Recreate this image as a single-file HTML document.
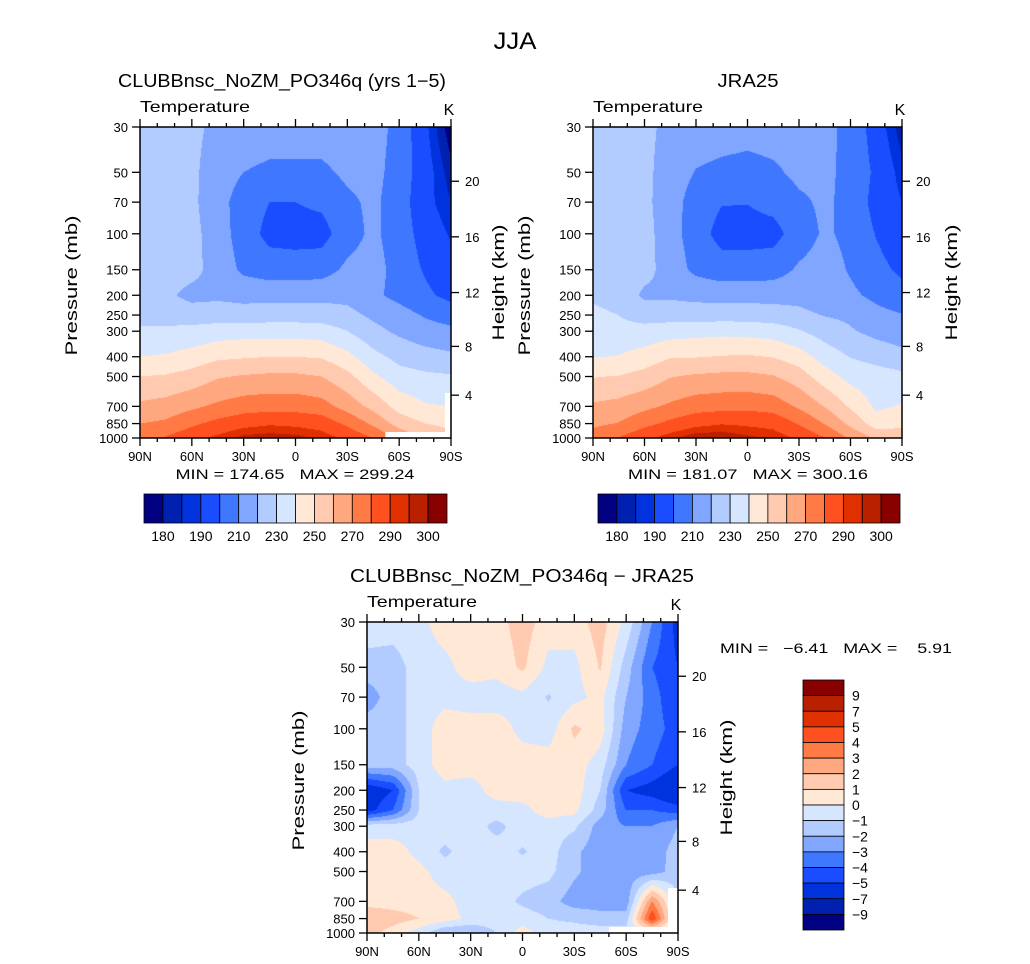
<!DOCTYPE html>
<html><head><meta charset="utf-8">
<style>
html,body{margin:0;padding:0;background:#fff;}
#wrap{position:relative;width:1030px;height:964px;overflow:hidden;font-family:"Liberation Sans",sans-serif;}
canvas{position:absolute;}
svg{position:absolute;left:0;top:0;}
text{white-space:pre;}
</style></head>
<body>
<div id="wrap">
<canvas id="c1"></canvas>
<canvas id="c2"></canvas>
<canvas id="c3"></canvas>
<svg id="svg" width="1030" height="964"></svg>
</div>
<script>
const lats=[90,75,60,45,30,15,0,-15,-30,-45,-60,-75,-90];
const plevs=[30,50,70,100,150,200,250,300,400,500,700,850,1000];
const tempModel=[
[224,224,222,218,216,215,215,215,215,214,207,192,176],
[225,224,222,215,210,208,208,208,212,213,206,194,182],
[226,225,222,214,205,200,200,202,208,212,205,193,185],
[226,225,223,215,205,197,196,196,206,212,205,196,189],
[226,225,223,216,208,205,205,206,212,214,206,199,193],
[223,222,217,218,217,217,217,217,217,212,207,202,197],
[226,226,225,225,224,225,225,225,223,218,214,209,206],
[232,232,233,235,236,236,236,235,230,223,218,214,212],
[240,241,244,248,249,250,250,249,243,233,227,224,222],
[250,251,254,259,261,262,262,260,253,242,234,232,231],
[262,264,268,272,275,276,276,274,266,257,246,241,240],
[270,272,278,283,287,289,288,286,278,268,256,250,248],
[276,281,287,292,297,298,297,294,288,280,268,258,252]];
const diffValues=[
[-0.3,-0.5,-0.3,0.5,0.5,0.6,1.5,0.5,0.5,1.5,-0.3,-3,-5.5],
[-1.5,-1.5,-0.5,-0.3,0.5,0.3,1.2,-0.3,-0.3,1.1,-1.5,-4,-5],
[-2.5,-1.5,-0.5,-0.3,-0.5,-0.5,-0.3,-1.1,-0.3,0.3,-2,-3.5,-5],
[-1.5,-1.5,-0.5,0.5,0.5,0.5,-0.3,-0.5,1.2,0.5,-2.5,-3.5,-4.5],
[-1.5,-1.5,-0.5,0.5,0.5,0.5,0.5,0.5,0.5,-0.5,-3,-4,-5],
[-6,-5,-1,-0.3,-0.5,0.5,0.5,0.5,0.5,-1,-5,-5.5,-6.5],
[-5.5,-4,-1,-0.5,-0.5,-0.5,-0.3,0.5,0.3,-1.5,-4,-4,-4.5],
[-0.5,-0.5,-0.5,-0.5,-0.5,-1.3,-0.5,-0.5,-0.8,-2.5,-3,-3,-2],
[0.5,0.5,-0.3,-1.2,-0.5,-0.5,-1.1,-0.5,-1.8,-2.6,-2.6,-2.6,-1.5],
[0.5,0.5,0.3,-0.5,-0.5,-0.5,-0.5,-0.7,-1.8,-2.6,-2.6,-2.5,-1.5],
[0.5,0.5,0.5,0.3,-0.5,-0.5,-1.2,-1.6,-2.5,-2.6,-2.6,3,-1],
[2,1.5,1,0.5,-0.3,-0.5,-0.5,-1,-1.2,-1.5,-1.5,5,-1],
[1.5,0.5,-0.5,-2,-2,-1,0.5,-0.5,-0.5,-0.5,-0.5,-0.5,-0.5]];
const tempLevels=[180,185,190,200,210,220,230,240,250,260,270,280,290,295,300];
const tempLabels=["180","190","210","230","250","270","290","300"];
const diffLevels=[-9,-7,-5,-4,-3,-2,-1,0,1,2,3,4,5,7,9];
const diffLabels=["9","7","5","4","3","2","1","0","\u22121","\u22122","\u22123","\u22124","\u22125","\u22127","\u22129"];
const latTicks=[90,60,30,0,-30,-60,-90];
const latTickLabels=["90N","60N","30N","0","30S","60S","90S"];
const presTicks=[30,50,70,100,150,200,250,300,400,500,700,850,1000];
const heightKm=[20,16,12,8,4];
const heightPres=[55.3,103.5,194,356,617];
const palette=["#000080","#0020b0","#0033dd","#1a4dff","#4077ff","#80a6ff","#b3ccff","#d6e6ff","#ffe9d6","#ffcab0","#ffa880","#ff7a45","#ff5020","#e03000","#b82000","#880000"];
const jraValues=tempModel.map((r,i)=>r.map((v,j)=>v-diffValues[i][j]));

const LP0=Math.log(30),LP1=Math.log(1000);
function interp(g,lat,p){
  let fi=(90-lat)/15; let i=Math.min(11,Math.floor(fi)); let ti=fi-i;
  const lp=Math.log(p); let k=0;
  while(k<11 && lp>Math.log(plevs[k+1])) k++;
  const a=Math.log(plevs[k]),b=Math.log(plevs[k+1]); let tk=(lp-a)/(b-a);
  tk=Math.max(0,Math.min(1,tk));
  const v00=g[k][i],v01=g[k][i+1],v10=g[k+1][i],v11=g[k+1][i+1];
  return (v00*(1-ti)+v01*ti)*(1-tk)+(v10*(1-ti)+v11*ti)*tk;
}
function bin(v,levels){let n=0;while(n<levels.length&&v>=levels[n])n++;return n;}
function hex(h){return [parseInt(h.substr(1,2),16),parseInt(h.substr(3,2),16),parseInt(h.substr(5,2),16)];}
const palRGB=palette.map(hex);
function fill(id,box,grid,levels){
  const c=document.getElementById(id);c.width=box.w;c.height=box.h;
  c.style.left=box.x+'px';c.style.top=box.y+'px';
  const ctx=c.getContext('2d');const im=ctx.createImageData(box.w,box.h);
  for(let y=0;y<box.h;y++){const p=Math.exp(LP0+(y+0.5)/box.h*(LP1-LP0));
    for(let x=0;x<box.w;x++){const lat=90-(x+0.5)/box.w*180;
      const col=palRGB[bin(interp(grid,lat,p),levels)];const o=(y*box.w+x)*4;
      im.data[o]=col[0];im.data[o+1]=col[1];im.data[o+2]=col[2];im.data[o+3]=255;}}
  ctx.putImageData(im,0,0);
}
const B1={x:140,y:127,w:311,h:311},B2={x:593,y:127,w:309,h:311},B3={x:367,y:622,w:311,h:311};
fill('c1',B1,tempModel,tempLevels);
fill('c2',B2,jraValues,tempLevels);
fill('c3',B3,diffValues,diffLevels);

const NS='http://www.w3.org/2000/svg';const svg=document.getElementById('svg');
function el(tag,attrs,parent){const e=document.createElementNS(NS,tag);for(const k in attrs)e.setAttribute(k,attrs[k]);(parent||svg).appendChild(e);return e;}
function txt(s,x,y,size,anchor,name,extra){const t=el('text',Object.assign({x:x,y:y,'font-size':size,'text-anchor':anchor||'start',fill:'#000','font-family':'Liberation Sans, sans-serif'},extra||{}));t.textContent=s;


return t;}
const xs=(b,lat)=>b.x+(90-lat)/180*b.w;
const ys=(b,p)=>b.y+(Math.log(p)-LP0)/(LP1-LP0)*b.h;

function axes(b,pre,pLabelX,hLabelX){
  const g=el('g',{});
  
  
  el('rect',{x:b.x,y:b.y,width:b.w,height:b.h,fill:'none',stroke:'#000','stroke-width':1.5},g);
  for(let lat=90;lat>=-90;lat-=10){const x=xs(b,lat);const maj=lat%30===0;const L=maj?8:4;
    el('line',{x1:x,y1:b.y+b.h,x2:x,y2:b.y+b.h+L,stroke:'#000','stroke-width':1.3},g);
    el('line',{x1:x,y1:b.y,x2:x,y2:b.y-L,stroke:'#000','stroke-width':1.3},g);}
  latTicks.forEach((lat,i)=>txt(latTickLabels[i],xs(b,lat),b.y+b.h+23,13,'middle',pre+'-x-tick-label'));
  presTicks.forEach(p=>{const y=ys(b,p);el('line',{x1:b.x,y1:y,x2:b.x-8,y2:y,stroke:'#000','stroke-width':1.3},g);
    txt(String(p),b.x-12,y+5,13,'end',pre+'-y-tick-label');});
  heightPres.forEach((p,i)=>{const y=ys(b,p);el('line',{x1:b.x+b.w,y1:y,x2:b.x+b.w+8,y2:y,stroke:'#000','stroke-width':1.3},g);
    txt(String(heightKm[i]),b.x+b.w+14,y+5,13,'start',pre+'-height-tick-label');});
  txt('Pressure (mb)',0,0,17,'middle',pre+'-y-axis-title',{transform:`translate(${pLabelX},${b.y+b.h/2+3}) rotate(-90)`,textLength:140,lengthAdjust:'spacingAndGlyphs'});
  txt('Height (km)',0,0,17,'middle',pre+'-height-axis-title',{transform:`translate(${hLabelX},${b.y+b.h/2}) rotate(-90)`,textLength:116,lengthAdjust:'spacingAndGlyphs'});
  txt('Temperature',b.x,b.y-15,16,'start',pre+'-variable-label',{textLength:110,lengthAdjust:'spacingAndGlyphs'});
  txt('K',b.x+b.w-2,b.y-12,16,'middle',pre+'-units-label');
}
el('polygon',{points:`${xs(B1,-52)},438 ${xs(B1,-52)},432 445,432 445,393 451,393 451,438`,fill:'#fff'});
el('polygon',{points:`${xs(B3,-50)},933 ${xs(B3,-50)},927 668,927 668,888 678,888 678,933`,fill:'#fff'});
axes(B1,'model',77,504);
axes(B2,'jra25',530,957);
axes(B3,'diff',304,732);

txt('JJA',515,49,24,'middle','main-title',{textLength:43,lengthAdjust:'spacingAndGlyphs'});
txt('CLUBBnsc_NoZM_PO346q (yrs 1\u22125)',282,87,18,'middle','model-title',{textLength:328,lengthAdjust:'spacingAndGlyphs'});
txt('JRA25',748,87,18,'middle','jra25-title',{textLength:61,lengthAdjust:'spacingAndGlyphs'});
txt('MIN = 174.65   MAX = 299.24',295,479,14,'middle','model-min-max',{textLength:239,lengthAdjust:'spacingAndGlyphs'});
txt('MIN = 181.07   MAX = 300.16',748,479,14,'middle','jra25-min-max',{textLength:240,lengthAdjust:'spacingAndGlyphs'});
txt('CLUBBnsc_NoZM_PO346q \u2212 JRA25',522,582,18,'middle','difference-title',{textLength:344,lengthAdjust:'spacingAndGlyphs'});
txt('MIN =   \u22126.41   MAX =    5.91',836,653,14,'middle','difference-min-max',{textLength:232,lengthAdjust:'spacingAndGlyphs'});

function hbar(x0,x1,y0,h,pre){const w=(x1-x0)/16;
  for(let i=0;i<16;i++){const r=el('rect',{x:x0+i*w,y:y0,width:w,height:h,fill:palette[i],stroke:'#000','stroke-width':0.8});
    
    }
  tempLabels.forEach((s,k)=>txt(s,x0+(2*k+1)*w,y0+h+18,14,'middle',pre+'-colorbar-label'));}
hbar(144,447,494,29,'model');
hbar(598,900,494,29,'jra25');
(function(){const x0=803,w=41,y0=680,h=(930-680)/16;
  for(let i=0;i<16;i++){const r=el('rect',{x:x0,y:y0+i*h,width:w,height:h,fill:palette[15-i],stroke:'#000','stroke-width':0.8});
    
    }
  diffLabels.forEach((s,k)=>txt(s,852,y0+(k+1)*h+5,14,'start','difference-colorbar-label'));})();
</script>
</body></html>
